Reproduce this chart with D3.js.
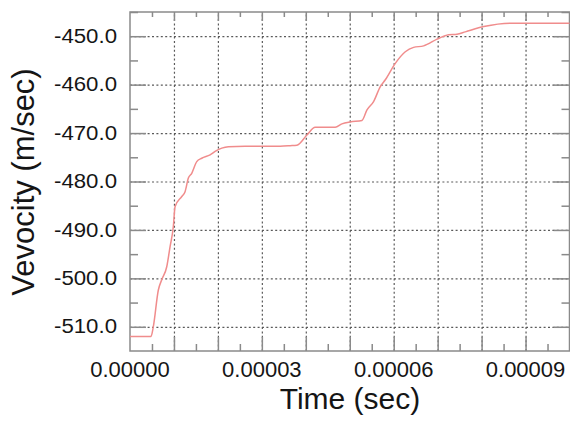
<!DOCTYPE html>
<html>
<head>
<meta charset="utf-8">
<script src="https://cdn.jsdelivr.net/npm/d3@7"></script>
<style>
  body { margin: 0; background: #fff; }
  text { font-family: "Liberation Sans", Arial, Helvetica, sans-serif; fill: #151515; }
  .grid line { stroke: #5a5a5a; stroke-width: 1.2; stroke-dasharray: 2,2.4; }
  .grid path { display: none; }
  .ticks line { stroke: #8a8a8a; stroke-width: 1.5; }
  .ticks path { display: none; }
</style>
</head>
<body>
<div id="chart"></div>
<script>
// velocity history - d3 line chart

// time (sec)
var timeData = [0, 4.78e-6, 5.3e-6, 6.45e-6, 7.22e-6, 8.36e-6, 9.11e-6, 9.86e-6, 1.025e-5,
  1.178e-5, 1.253e-5, 1.328e-5, 1.405e-5, 1.519e-5, 1.633e-5, 1.822e-5, 1.936e-5, 2.089e-5,
  2.239e-5, 2.62e-5, 3.417e-5, 3.645e-5, 3.797e-5, 4.025e-5, 4.214e-5, 4.67e-5, 4.822e-5,
  5.011e-5, 5.278e-5, 5.392e-5, 5.542e-5, 5.695e-5, 5.809e-5, 6.036e-5, 6.264e-5, 6.453e-5,
  6.681e-5, 6.986e-5, 7.137e-5, 7.251e-5, 7.44e-5, 7.63e-5, 8.05e-5, 8.656e-5, 9.036e-5, 1.0e-4];

// velocity (m/sec)
var velocityData = [-512.0, -512.0, -510.0, -502.4, -500.3, -497.6, -493.5, -489.3, -485.2,
  -483.1, -482.1, -479.3, -478.3, -475.9, -475.2, -474.5, -473.8, -473.1,
  -472.8, -472.7, -472.7, -472.6, -472.5, -470.4, -468.8, -468.8, -468.1,
  -467.7, -467.4, -465.2, -463.5, -460.4, -459.0, -455.6, -453.2, -452.3,
  -452.0, -450.6, -450.0, -449.7, -449.6, -449.1, -448.0, -447.3, -447.3, -447.3];

var xTickLabels = [0, 0.00003, 0.00006, 0.00009];
var yTickLabels = [-510, -500, -490, -480, -470, -460, -450];
var xGrid = [0.00001, 0.00002, 0.00003, 0.00004, 0.00005, 0.00006, 0.00007, 0.00008, 0.00009];
var xMinor = [0.000005, 0.000015, 0.000025, 0.000035, 0.000045, 0.000055, 0.000065, 0.000075, 0.000085, 0.000095];
var yMinor = [-505, -495, -485, -475, -465, -455, -445];

var width = 570, height = 423;
var plot = {left: 130, right: 569.5, top: 12, bottom: 351};

var x = d3.scaleLinear().domain([0, 0.0001]).range([plot.left, plot.right]);
var y = d3.scaleLinear().domain([-515, -445]).range([plot.bottom, plot.top]);

var svg = d3.select("#chart").append("svg")
    .attr("width", width)
    .attr("height", height);

svg.append("rect").attr("width", width).attr("height", height).attr("fill", "#fff");

//grid lines
svg.append("g")
    .attr("class", "grid")
    .attr("transform", "translate(0," + plot.bottom + ")")
    .call(d3.axisBottom(x).tickValues(xGrid).tickSize(-(plot.bottom - plot.top)).tickFormat(""));
svg.append("g")
    .attr("class", "grid")
    .attr("transform", "translate(" + plot.left + ",0)")
    .call(d3.axisLeft(y).tickValues(yTickLabels).tickSize(-(plot.right - plot.left)).tickFormat(""));

//inward ticks on all four sides
function tickAxis(axis, values, len, transform) {
    svg.append("g")
        .attr("class", "ticks")
        .attr("transform", transform)
        .call(axis.tickValues(values).tickSize(-len).tickFormat(""));
}
tickAxis(d3.axisLeft(y), yTickLabels, 16, "translate(" + plot.left + ",0)");
tickAxis(d3.axisLeft(y), yMinor, 8, "translate(" + plot.left + ",0)");
tickAxis(d3.axisRight(y), yTickLabels, 16, "translate(" + plot.right + ",0)");
tickAxis(d3.axisRight(y), yMinor, 8, "translate(" + plot.right + ",0)");
tickAxis(d3.axisBottom(x), xGrid, 14, "translate(0," + plot.bottom + ")");
tickAxis(d3.axisBottom(x), xMinor, 7, "translate(0," + plot.bottom + ")");
tickAxis(d3.axisTop(x), xGrid, 9, "translate(0," + plot.top + ")");
tickAxis(d3.axisTop(x), xMinor, 5, "translate(0," + plot.top + ")");

//frame
svg.append("rect")
    .attr("x", plot.left).attr("y", plot.top)
    .attr("width", plot.right - plot.left).attr("height", plot.bottom - plot.top)
    .attr("fill", "none")
    .attr("stroke", "#8a8a8a")
    .attr("stroke-width", 1.5);

//tick labels (y ones are a bit stretched in the original)
svg.append("g").selectAll("text")
    .data(yTickLabels)
    .enter()
    .append("text")
    .attr("x", 117)
    .attr("y", d => y(d))
    .attr("dy", "0.33em")
    .attr("text-anchor", "end")
    .attr("textLength", 63)
    .attr("lengthAdjust", "spacingAndGlyphs")
    .style("font-size", "20px")
    .text(d => d.toFixed(1));

svg.append("g").selectAll("text")
    .data(xTickLabels)
    .enter()
    .append("text")
    .attr("x", d => x(d))
    .attr("y", 377)
    .attr("text-anchor", "middle")
    .style("font-size", "22px")
    .text(d => d.toFixed(5));

//axis titles
svg.append("text")
    .attr("x", 350)
    .attr("y", 409)
    .attr("text-anchor", "middle")
    .style("font-size", "30px")
    .text("Time (sec)");

svg.append("text")
    .attr("transform", "translate(34,182) rotate(-90)")
    .attr("text-anchor", "middle")
    .style("font-size", "31px")
    .text("Vevocity (m/sec)");

//velocity curve
var points = timeData.map((t, i) => [t, velocityData[i]]);
svg.append("path")
    .datum(points)
    .attr("fill", "none")
    .attr("stroke", "#f08c8c")
    .attr("stroke-width", 1.5)
    .attr("d", d3.line().curve(d3.curveMonotoneX).x(d => x(d[0])).y(d => y(d[1])));
</script>
</body>
</html>
